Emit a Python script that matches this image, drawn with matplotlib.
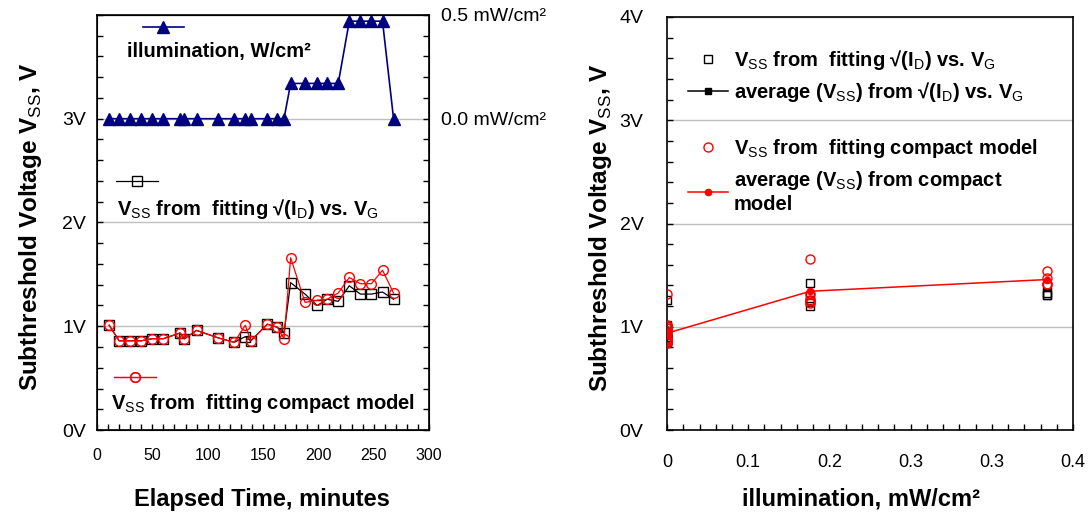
import matplotlib
matplotlib.use('Agg')
import matplotlib.pyplot as plt
from matplotlib.lines import Line2D
from matplotlib.ticker import MultipleLocator, FuncFormatter
import numpy as np

plt.rcParams['font.family'] = ['Liberation Sans', 'DejaVu Sans']
plt.rcParams['mathtext.fontset'] = 'custom'
plt.rcParams['mathtext.rm'] = 'Liberation Sans'
plt.rcParams['mathtext.bf'] = 'Liberation Sans:bold'

# data
time_min = [11, 20, 30, 40, 50, 60, 75, 79, 90, 109, 124, 134, 139, 154, 163, 169,
            175, 188, 199, 208, 218, 228, 238, 248, 258, 268]
illum_time = [0.0] * 16 + [0.17] * 5 + [0.47] * 4 + [0.0]
vss_sqrt = [1.01, 0.86, 0.86, 0.86, 0.88, 0.88, 0.935, 0.88, 0.96, 0.89, 0.845, 0.90, 0.86,
            1.02, 0.99, 0.935, 1.42, 1.31, 1.20, 1.26, 1.24, 1.39, 1.31, 1.31, 1.33, 1.26]
vss_compact = [1.01, 0.86, 0.86, 0.86, 0.88, 0.88, 0.935, 0.88, 0.96, 0.89, 0.845, 1.01, 0.86,
               1.02, 0.99, 0.88, 1.66, 1.23, 1.25, 1.26, 1.32, 1.47, 1.41, 1.41, 1.54, 1.32]
# illumination of the same points as placed on the right chart
illum_right = [0.0] * 16 + [0.150] * 5 + [0.398] * 4 + [0.0]

v_ticks = [0, 1, 2, 3, 4]
v_labels_left = ['0V', '1V', '2V', '3V', '']
v_labels_right = ['0V', '1V', '2V', '3V', '4V']
illum_ticks = [0.0, 0.5]
illum_labels = ['0.0 mW/cm²', '0.5 mW/cm²']

RED = '#FF0000'
NAVY = '#000080'
GRID = '#C0C0C0'
narrow = ['Liberation Sans Narrow', 'Liberation Sans']

lvls = sorted(set(illum_right))
avg_compact = [np.mean([v for v, x in zip(vss_compact, illum_right) if x == l]) for l in lvls]

fig = plt.figure(figsize=(10.91, 5.15), dpi=100)
ax1 = fig.add_axes([0.0889, 0.165, 0.3043, 0.806])
ax2 = fig.add_axes([0.6114, 0.165, 0.3721, 0.802])

# ---------- left: time series ----------
l_sq, = ax1.plot(time_min, vss_sqrt, color='black', lw=0.9, marker='s', ms=6.5,
                 mfc='none', mec='black', mew=1.0, zorder=2)
l_ci, = ax1.plot(time_min, vss_compact, color=RED, lw=0.9, marker='o', ms=7,
                 mfc='none', mec=RED, mew=1.0, zorder=3)
ax1.set_xlim(0, 300)
ax1.set_ylim(0, 4)
ax1.set_yticks(v_ticks, v_labels_left, fontsize=14)
ax1.yaxis.set_minor_locator(MultipleLocator(0.2))
ax1.xaxis.set_major_locator(MultipleLocator(50))
ax1.xaxis.set_minor_locator(MultipleLocator(10))
for t in ax1.get_xticklabels():
    t.set_family(narrow)
    t.set_fontsize(11.5)
ax1.tick_params(which='both', direction='in', top=False, right=False, length=4, width=1)
ax1.tick_params(axis='x', which='major', pad=13)
ax1.tick_params(axis='y', which='major', pad=8)
ax1.grid(axis='y', color=GRID, lw=1)
ax1.set_axisbelow(True)
ax1.set_xlabel('Elapsed Time, minutes', fontsize=17, fontweight='bold')
ax1.xaxis.set_label_coords(0.497, -0.14)
ax1.set_ylabel(r'Subthreshold Voltage V$_\mathrm{SS}$, V', fontsize=17.5, fontweight='bold')
ax1.yaxis.set_label_coords(-0.16, 0.49)

tw = ax1.twinx()
tw.set_position(ax1.get_position())
l_tr, = tw.plot(time_min, illum_time, color=NAVY, lw=1.2, marker='^', ms=8.5,
                mfc=NAVY, mec=NAVY)
tw.set_ylim(-1.5, 0.5)
tw.set_yticks(illum_ticks, illum_labels, fontsize=14)
tw.yaxis.set_minor_locator(MultipleLocator(0.1))
tw.tick_params(which='both', direction='in', length=4, width=1, pad=9)

# legend samples (handle only) with their captions below
def sample(ax, h, xy, hl):
    lg = ax.legend([h], [''], loc='center', bbox_to_anchor=xy, frameon=False,
                   handlelength=hl, handletextpad=0, borderpad=0, borderaxespad=0)
    ax.add_artist(lg)

sample(tw, l_tr, (0.20, 0.969), 2.9)
tw.text(0.09, 0.912, 'illumination, W/cm²', transform=tw.transAxes, fontsize=14.5,
        fontweight='bold', va='center', ha='left')
sample(tw, l_sq, (0.12, 0.597), 3.0)
tw.text(0.06, 0.533, r'V$_\mathrm{SS}$ from  fitting √(I$_\mathrm{D}$) vs. V$_\mathrm{G}$',
        transform=tw.transAxes, fontsize=14.5, fontweight='bold', va='center', ha='left')
sample(tw, l_ci, (0.115, 0.125), 3.0)
tw.text(0.041, 0.063, r'V$_\mathrm{SS}$ from  fitting compact model',
        transform=tw.transAxes, fontsize=14.5, fontweight='bold', va='center', ha='left')

# ---------- right: Vss vs illumination ----------
r_sq, = ax2.plot(illum_right, vss_sqrt, ls='none', marker='s', ms=6, mfc='none',
                 mec='black', mew=1.0, zorder=3)
r_ci, = ax2.plot(illum_right, vss_compact, ls='none', marker='o', ms=6.5, mfc='none',
                 mec=RED, mew=1.0, zorder=4)
r_avg, = ax2.plot(lvls, avg_compact, color=RED, lw=1.1, marker='o', ms=4.5,
                  mfc=RED, mec=RED, zorder=5)
h_avg_sq = Line2D([], [], color='black', lw=1.1, marker='s', ms=4.5, mfc='black', mec='black')

ax2.set_xlim(0, 0.425)
ax2.set_ylim(0, 4)
ax2.set_yticks(v_ticks, v_labels_right)
for t in ax2.get_yticklabels():
    t.set_family(narrow)
    t.set_fontsize(14)
ax2.yaxis.set_minor_locator(MultipleLocator(0.2))
ax2.xaxis.set_major_locator(MultipleLocator(0.085))
ax2.xaxis.set_minor_locator(MultipleLocator(0.017))
ax2.xaxis.set_major_formatter(FuncFormatter(lambda v, p: '0' if v < 1e-9 else f'{v:.1f}'))
for t in ax2.get_xticklabels():
    t.set_family(narrow)
    t.set_fontsize(13)
ax2.tick_params(which='both', direction='in', top=False, right=False, length=4, width=1)
ax2.tick_params(axis='x', which='major', pad=17)
ax2.tick_params(axis='y', which='major', pad=17)
ax2.grid(axis='y', color=GRID, lw=1)
ax2.set_axisbelow(True)
ax2.set_xlabel('illumination, mW/cm²', fontsize=17, fontweight='bold')
ax2.xaxis.set_label_coords(0.478, -0.14)
ax2.set_ylabel(r'Subthreshold Voltage V$_\mathrm{SS}$, V', fontsize=17.5, fontweight='bold')
ax2.yaxis.set_label_coords(-0.13, 0.49)

lg1 = ax2.legend([r_sq, h_avg_sq],
                 [r'V$_\mathrm{SS}$ from  fitting √(I$_\mathrm{D}$) vs. V$_\mathrm{G}$',
                  r'average (V$_\mathrm{SS}$) from √(I$_\mathrm{D}$) vs. V$_\mathrm{G}$'],
                 loc='upper left', bbox_to_anchor=(0.052, 0.925), frameon=False,
                 prop={'size': 14.5, 'weight': 'bold'}, handlelength=2.0, handletextpad=0.28,
                 borderpad=0, borderaxespad=0, labelspacing=0.4)
ax2.add_artist(lg1)
ax2.legend([r_ci, r_avg],
           [r'V$_\mathrm{SS}$ from  fitting compact model',
            'average (V$_\\mathrm{SS}$) from compact\nmodel'],
           loc='upper left', bbox_to_anchor=(0.052, 0.71), frameon=False,
           prop={'size': 14.5, 'weight': 'bold'}, handlelength=2.0, handletextpad=0.28,
           borderpad=0, borderaxespad=0, labelspacing=0.45)

for ax in (ax1, ax2):
    for s in ax.spines.values():
        s.set_linewidth(1.2)

fig.savefig('out.png', dpi=100)
